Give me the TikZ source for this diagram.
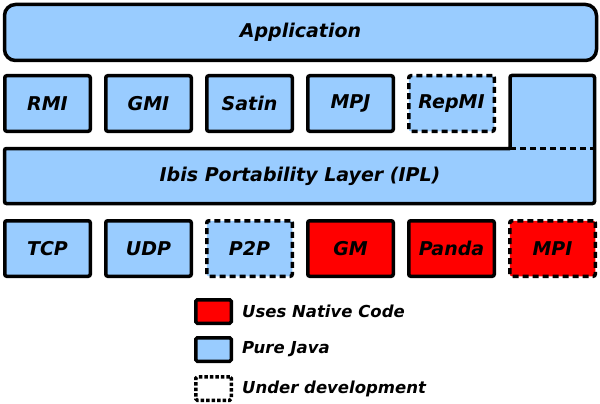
\documentclass[tikz,border=0pt]{standalone}
\usepackage{fontspec}
\setmainfont{DejaVu Sans}
\definecolor{javablue}{HTML}{99CCFF}
\definecolor{nativered}{HTML}{FF0000}
\begin{document}
\begin{tikzpicture}[x=1pt,y=-1pt,
  lbl/.style={font=\fontsize{19}{21}\selectfont\bfseries\itshape},
  layerbox/.style={draw=black,line width=3.5pt,rounded corners=2pt,minimum width=85.5pt,minimum height=55.5pt,inner sep=0pt,lbl},
  java/.style={layerbox,fill=javablue},
  native/.style={layerbox,fill=nativered},
  devel/.style={dash pattern=on 6pt off 4pt},
  legbox/.style={draw=black,line width=3.5pt,rounded corners=1.5pt,minimum width=35.5pt,minimum height=23.5pt,inner sep=0pt},
  legtxt/.style={anchor=west,inner sep=0pt,font=\fontsize{16.5}{18}\selectfont\bfseries\itshape}
]
\useasboundingbox (0,0) rectangle (600,404);
% Application
\node[draw=black,line width=3.5pt,fill=javablue,rounded corners=11pt,minimum width=592pt,minimum height=56pt,inner sep=0pt,lbl] (app) at (300.5,32.5) {Application};
% Row 2
\node[java] (rmi) at (47.5,103.5) {RMI};
\node[java] (gmi) at (148.5,103.5) {GMI};
\node[java] (satin) at (249.5,103.5) {Satin};
\node[java] (mpj) at (350.5,103.5) {MPJ};
\node[java,devel] (repmi) at (451.5,103.5) {RepMI};
% IPL L-shape
\fill[javablue] (4.5,148.5) -- (510,148.5) -- (510,75.5) -- (594.5,75.5) -- (594.5,203.5) -- (4.5,203.5) -- cycle;
\draw[line width=3.5pt,rounded corners=2pt] (510,148.5) -- (4.5,148.5) -- (4.5,203.5) -- (594.5,203.5) -- (594.5,75.5) -- (510,75.5) -- (510,148.5);
\draw[line width=3.5pt,devel] (510,148.5) -- (594.5,148.5);
\node[lbl,inner sep=0pt] (ipl) at (300,176) {Ibis Portability Layer (IPL)};
% Row 3
\node[java] (tcp) at (47.5,248.5) {TCP};
\node[java] (udp) at (148.5,248.5) {UDP};
\node[java,devel] (p2p) at (249.5,248.5) {P2P};
\node[native] (gm) at (350.5,248.5) {GM};
\node[native] (panda) at (451.5,248.5) {Panda};
\node[native,devel] (mpi) at (552.5,248.5) {MPI};
% Legend
\node[legbox,fill=nativered] (legn) at (213.5,311.5) {};
\node[legbox,fill=javablue] (legj) at (213.5,349.5) {};
\node[legbox,fill=white,dash pattern=on 3.5pt off 2pt] (legd) at (213.5,388.5) {};
\node[legtxt] (legntxt) at (242,311.5) {Uses Native Code};
\node[legtxt] (legjtxt) at (242,349.5) {Pure Java};
\node[legtxt] (legdtxt) at (242,388.5) {Under development};
\end{tikzpicture}
\end{document}
